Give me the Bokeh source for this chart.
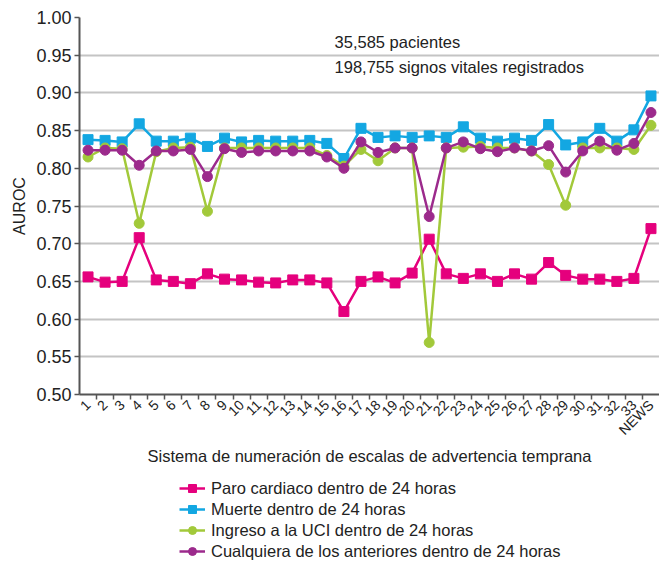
from bokeh.plotting import figure
from bokeh.layouts import column
from bokeh.models import (FixedTicker, NumeralTickFormatter, Range1d, Label,
                          Legend, LegendItem, ColumnDataSource)
from bokeh.embed import file_html
from bokeh.resources import INLINE
import math

categories = [str(i) for i in range(1, 34)] + ["NEWS"]

paro_cardiaco = [0.656, 0.649, 0.650, 0.708, 0.652, 0.650, 0.647, 0.660, 0.653, 0.652,
                 0.649, 0.648, 0.652, 0.652, 0.648, 0.610, 0.650, 0.656, 0.648, 0.661,
                 0.706, 0.660, 0.654, 0.660, 0.650, 0.660, 0.653, 0.675, 0.658, 0.653,
                 0.653, 0.650, 0.654, 0.720]
muerte = [0.838, 0.837, 0.835, 0.859, 0.836, 0.836, 0.840, 0.829, 0.840, 0.835,
          0.837, 0.836, 0.836, 0.837, 0.833, 0.813, 0.853, 0.841, 0.843, 0.841,
          0.843, 0.841, 0.855, 0.840, 0.836, 0.840, 0.837, 0.858, 0.831, 0.835,
          0.853, 0.836, 0.851, 0.896]
ingreso_uci = [0.815, 0.827, 0.826, 0.727, 0.822, 0.827, 0.828, 0.743, 0.827, 0.827,
               0.827, 0.827, 0.827, 0.827, 0.817, 0.803, 0.825, 0.810, 0.827, 0.827,
               0.569, 0.827, 0.828, 0.829, 0.827, 0.827, 0.823, 0.805, 0.751, 0.827,
               0.827, 0.827, 0.825, 0.857]
cualquiera = [0.824, 0.824, 0.824, 0.804, 0.823, 0.823, 0.825, 0.789, 0.826, 0.821,
              0.823, 0.823, 0.823, 0.823, 0.815, 0.800, 0.835, 0.821, 0.827, 0.827,
              0.736, 0.827, 0.835, 0.826, 0.822, 0.827, 0.823, 0.830, 0.795, 0.823,
              0.836, 0.824, 0.833, 0.874]

series_names = ["Paro cardiaco dentro de 24 horas",
                "Muerte dentro de 24 horas",
                "Ingreso a la UCI dentro de 24 horas",
                "Cualquiera de los anteriores dentro de 24 horas"]
series_values = [paro_cardiaco, muerte, ingreso_uci, cualquiera]
series_colors = ["#e5007d", "#13a7e2", "#a2c93a", "#9c2a8c"]
series_markers = ["square", "square", "circle", "circle"]

y_ticks = [0.50, 0.55, 0.60, 0.65, 0.70, 0.75, 0.80, 0.85, 0.90, 0.95, 1.00]
annotation_lines = ["35,585 pacientes", "198,755 signos vitales registrados"]

FONT = "Liberation Sans"
TXT = "#222222"
AX = "#555555"

xs = list(range(1, len(categories) + 1))

p = figure(width=659, height=478, output_backend="svg", toolbar_location=None,
           x_range=Range1d(0.5, len(categories) + 0.5), y_range=Range1d(0.5, 1.0),
           min_border_left=79, min_border_right=0, min_border_top=17,
           min_border_bottom=84)
p.outline_line_color = None
p.background_fill_color = "white"
p.border_fill_color = "white"

# grid
p.xgrid.visible = False
p.ygrid.grid_line_color = "#c4c4c4"
p.ygrid.grid_line_width = 2

# y axis
p.yaxis.ticker = FixedTicker(ticks=y_ticks)
p.yaxis.formatter = NumeralTickFormatter(format="0.00")
p.yaxis.axis_line_color = AX
p.yaxis.axis_line_width = 2
p.yaxis.major_tick_line_color = AX
p.yaxis.major_tick_line_width = 1.5
p.yaxis.major_tick_out = 5
p.yaxis.major_tick_in = 0
p.yaxis.minor_tick_line_color = None
p.yaxis.major_label_text_font = FONT
p.yaxis.major_label_text_font_size = "18px"
p.yaxis.major_label_text_color = TXT
p.yaxis.major_label_standoff = 3
p.yaxis.axis_label = "AUROC"
p.yaxis.axis_label_text_font = FONT
p.yaxis.axis_label_text_font_size = "16px"
p.yaxis.axis_label_text_font_style = "normal"
p.yaxis.axis_label_text_color = TXT
p.yaxis.axis_label_standoff = 5

# x axis
boundaries = [i + 0.5 for i in range(1, len(categories))]
p.xaxis.ticker = FixedTicker(ticks=xs, minor_ticks=boundaries)
p.xaxis.major_label_overrides = {x: c for x, c in zip(xs, categories)}
p.xaxis.major_label_orientation = math.pi / 4
p.xaxis.axis_line_color = AX
p.xaxis.axis_line_width = 2
p.xaxis.major_tick_line_color = None
p.xaxis.major_tick_out = 0
p.xaxis.major_tick_in = 0
p.xaxis.minor_tick_line_color = AX
p.xaxis.minor_tick_line_width = 1.5
p.xaxis.minor_tick_out = 5
p.xaxis.minor_tick_in = 0
p.xaxis.major_label_text_font = FONT
p.xaxis.major_label_text_font_size = "14px"
p.xaxis.major_label_text_color = TXT
p.xaxis.major_label_standoff = 3
p.xaxis.axis_label = "Sistema de numeración de escalas de advertencia temprana"
p.xaxis.axis_label_text_font = FONT
p.xaxis.axis_label_text_font_size = "16.5px"
p.xaxis.axis_label_text_font_style = "normal"
p.xaxis.axis_label_text_color = TXT
p.xaxis.axis_label_standoff = 0

sources = []
for name, vals, col, mk in zip(series_names, series_values, series_colors, series_markers):
    src = ColumnDataSource(dict(x=xs, y=vals))
    sources.append(src)
    p.line("x", "y", source=src, line_color=col, line_width=2.5)
    p.scatter("x", "y", source=src, marker=mk, size=10, fill_color=col,
              line_color=col)

ann_y = [0.968, 0.934]
for txt, yy in zip(annotation_lines, ann_y):
    p.add_layout(Label(x=15.45, y=yy, text=txt, text_font=FONT,
                       text_font_size="16.5px", text_color=TXT,
                       text_baseline="middle", text_align="left"))

# legend panel (separate figure below the chart); its glyphs use the same
# data but lie outside its ranges, so only the legend shows
pl = figure(width=659, height=83, output_backend="svg", toolbar_location=None,
            x_axis_type=None, y_axis_type=None,
            x_range=Range1d(100, 101), y_range=Range1d(100, 101),
            min_border_left=79, min_border_right=0, min_border_top=0,
            min_border_bottom=0)
pl.outline_line_color = None
pl.background_fill_color = "white"
pl.border_fill_color = "white"

items = []
for name, src, col, mk in zip(series_names, sources, series_colors, series_markers):
    ln = pl.line("x", "y", source=src, line_color=col, line_width=2.5)
    sc = pl.scatter("x", "y", source=src, marker=mk, size=8, fill_color=col,
                    line_color=col)
    items.append(LegendItem(label=name, renderers=[ln, sc]))

legend = Legend(items=items, location=(100, 0), orientation="vertical",
                glyph_width=26, glyph_height=20, label_height=20, spacing=1,
                padding=0, margin=0, label_standoff=6,
                label_text_font=FONT, label_text_font_size="16.5px",
                label_text_color=TXT, border_line_color=None,
                background_fill_alpha=0)
pl.add_layout(legend, "center")

layout = column(p, pl, spacing=0)
open("out.html", "w").write(file_html(layout, INLINE))
